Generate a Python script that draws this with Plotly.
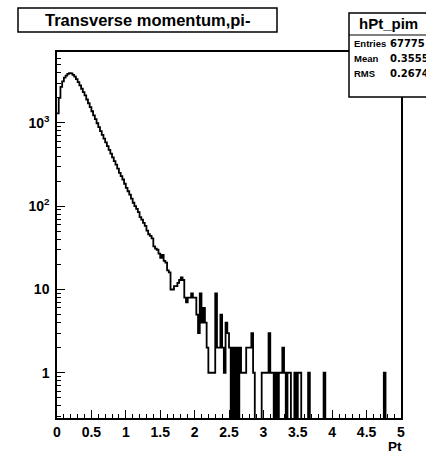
import plotly.graph_objects as go

# ---------------- data ----------------
x_min, x_max, n_bins = 0.0, 5.0, 200

counts = [
    1300, 2000, 2700, 3150, 3500, 3700, 3880, 3950, 3920, 3780,   # 0-9
    3600, 3360, 3090, 2820, 2570, 2340, 2140, 1910, 1720, 1550,   # 10-19
    1380, 1230, 1110, 990, 890, 795, 716, 646, 582, 525,          # 20-29
    473, 427, 385, 347, 316, 282, 251, 229, 209, 186,             # 30-39
    166, 151, 138, 123, 110, 100, 93, 85, 74, 69,                 # 40-49
    63, 58, 51, 46, 44, 41, 33, 31, 30, 27,                       # 50-59
    24, 26, 22, 21, 17, 16, 10, 10, 11, 11,                       # 60-69
    12, 13, 14, 13, 8, 7, 8, 8, 9, 8,                             # 70-79
    8, 5, 3, 9, 4, 6, 4, 2, 1, 1,                                 # 80-89
    1, 1, 9, 2, 2, 5, 2, 1, 4, 3,                                 # 90-99
    2, 0, 2, 0, 2, 0, 2, 1, 1, 1,                                 # 100-109
    2, 2, 2, 3, 1, 0, 0, 0, 0, 1,                                 # 110-119
    1, 1, 1, 3, 1, 1, 0, 1, 0, 1,                                 # 120-129
    1, 2, 1, 0, 1, 1, 0, 0, 1, 0,                                 # 130-139
    1, 1, 0, 0, 0, 0, 1, 0, 0, 0,                                 # 140-149
    0, 0, 0, 0, 0, 1, 0, 0, 0, 0,                                 # 150-159
    0, 0, 0, 0, 0, 0, 0, 0, 0, 0,                                 # 160-169
    0, 0, 0, 0, 0, 0, 0, 0, 0, 0,                                 # 170-179
    0, 0, 0, 0, 0, 0, 0, 0, 0, 0,                                 # 180-189
    1, 0, 0, 0, 0, 0, 0, 0, 0, 0,                                 # 190-199
]

x_tick_vals = [0, 0.5, 1, 1.5, 2, 2.5, 3, 3.5, 4, 4.5, 5]
x_tick_text = ["0", "0.5", "1", "1.5", "2", "2.5", "3", "3.5", "4", "4.5", "5"]
y_tick_vals = [1, 10, 100, 1000]
y_tick_text = ["1", "10", "10<sup>2</sup>", "10<sup>3</sup>"]
y_minor_vals = [k * 10 ** d for d in range(-1, 4) for k in range(2, 10)]

title_text = "Transverse momentum,pi-"
x_title = "Pt"
stats_name = "hPt_pim"
stats_labels = ["Entries", "Mean", "RMS"]
stats_values = ["67775", "0.3555", "0.2674"]

# ---------------- geometry helpers ----------------
W, H = 426, 454
L, R, T, B = 57, 401, 52, 418


def px(x):
    return (x - L) / (R - L)


def py(y):
    return (B - y) / (B - T)


bw = (x_max - x_min) / n_bins
edges = [x_min + i * bw for i in range(n_bins + 1)]
floor = 1e-2
ys = [c if c > 0 else floor for c in counts]
xs = edges[:-1] + [edges[-1]]
ys = ys + [ys[-1]]

fig = go.Figure()
fig.add_trace(go.Scatter(
    x=xs, y=ys, mode="lines", line=dict(shape="hv", color="black", width=1.8),
    hoverinfo="skip", showlegend=False,
))

bold = dict(family="Liberation Sans, Arial, sans-serif", color="black", weight="bold")

fig.update_layout(
    template="none",
    width=W, height=H, autosize=False,
    margin=dict(l=L, r=W - R, t=T, b=H - B, pad=0),
    paper_bgcolor="white", plot_bgcolor="white",
    showlegend=False,
    xaxis=dict(
        range=[x_min, x_max], showgrid=False, zeroline=False,
        showline=True, linecolor="black", linewidth=1.5, mirror=True,
        tickmode="array", tickvals=x_tick_vals, ticktext=x_tick_text,
        ticks="inside", ticklen=8, tickwidth=1, tickcolor="black",
        minor=dict(dtick=0.1, tick0=0, ticks="inside", ticklen=4, tickwidth=1,
                   tickcolor="black", showgrid=False),
        tickfont=dict(size=14, **bold), ticklabelstandoff=0,
    ),
    yaxis=dict(
        type="log", range=[-0.543, 3.851], showgrid=False, zeroline=False,
        showline=True, linecolor="black", linewidth=1.5, mirror=True,
        tickmode="array", tickvals=y_tick_vals, ticktext=y_tick_text,
        ticks="inside", ticklen=8, tickwidth=1, tickcolor="black",
        minor=dict(tickmode="array", tickvals=y_minor_vals, ticks="inside", ticklen=4,
                   tickwidth=1, tickcolor="black", showgrid=False),
        tickfont=dict(size=14, **bold), ticklabelstandoff=3,
    ),
)

shapes = []
annotations = []

# title box
shapes.append(dict(type="rect", xref="paper", yref="paper", layer="above",
                   x0=px(18), x1=px(277), y0=py(32), y1=py(8),
                   line=dict(color="black", width=1.5), fillcolor="white"))
annotations.append(dict(xref="paper", yref="paper", x=px(147.5), y=py(20.5),
                        xanchor="center", yanchor="middle", showarrow=False,
                        text=title_text, font=dict(size=16.5, **bold)))

# stats box
shapes.append(dict(type="rect", xref="paper", yref="paper", layer="above",
                   x0=px(349), x1=px(445), y0=py(97), y1=py(13),
                   line=dict(color="black", width=1.5), fillcolor="white"))
shapes.append(dict(type="line", xref="paper", yref="paper", layer="above",
                   x0=px(349), x1=px(445), y0=py(35), y1=py(35),
                   line=dict(color="black", width=1.2)))
annotations.append(dict(xref="paper", yref="paper", x=px(388), y=py(24),
                        xanchor="center", yanchor="middle", showarrow=False,
                        text=stats_name, font=dict(size=15, **bold)))
row_y = [43.5, 58.5, 74]
for lab, val, yy in zip(stats_labels, stats_values, row_y):
    annotations.append(dict(xref="paper", yref="paper", x=px(351.5), y=py(yy),
                            xanchor="left", yanchor="middle", showarrow=False,
                            text=lab, font=dict(size=9.5, family="Liberation Sans Narrow, Liberation Sans, Arial",
                                                color="black", weight="bold")))
    annotations.append(dict(xref="paper", yref="paper", x=px(387.5), y=py(yy),
                            xanchor="left", yanchor="middle", showarrow=False,
                            text=val, font=dict(size=10, family="DejaVu Sans, sans-serif",
                                                color="black", weight="bold")))

# x axis title
annotations.append(dict(xref="paper", yref="paper", x=px(403), y=py(446.5),
                        xanchor="right", yanchor="middle", showarrow=False, borderpad=0,
                        text=x_title, font=dict(size=13.5, **bold)))

fig.update_layout(shapes=shapes, annotations=annotations)

fig.write_html("out.html", config={"displayModeBar": False},
               post_script="document.body.style.margin='0px';")
